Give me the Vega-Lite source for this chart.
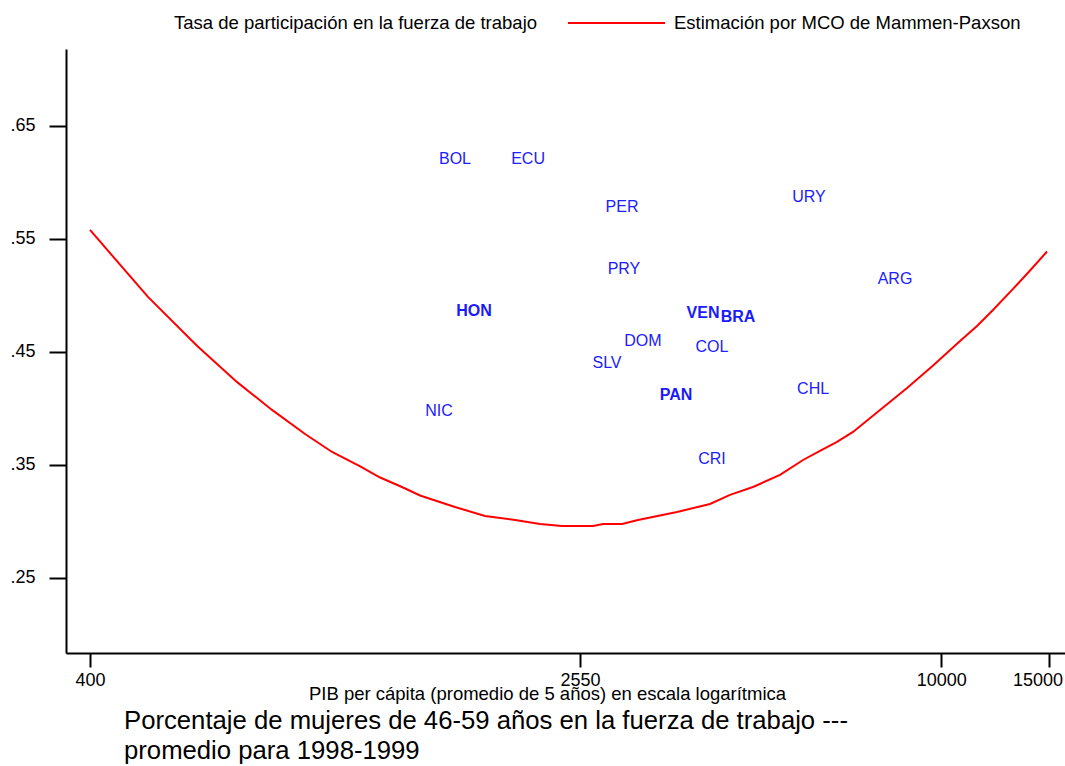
{
  "$schema": "https://vega.github.io/schema/vega-lite/v6.json",
  "width": 999,
  "height": 604,
  "autosize": {"type": "none"},
  "padding": {"left": 66, "top": 49, "right": 0, "bottom": 113},
  "background": "white",
  "config": {"view": {"stroke": null}, "font": "Liberation Sans"},
  "title": {
    "text": ["Porcentaje de mujeres de 46-59 años en la fuerza de trabajo ---", "promedio para 1998-1999"],
    "orient": "bottom",
    "anchor": "start",
    "frame": "group",
    "dx": 58,
    "offset": 6,
    "font": "Liberation Sans",
    "fontSize": 25.7,
    "fontWeight": "normal",
    "lineHeight": 30,
    "color": "black"
  },
  "datasets": {
    "paises": [
      {"pais": "BOL", "pib": 1590, "tasa": 0.6217},
      {"pais": "ECU", "pib": 2096, "tasa": 0.6217},
      {"pais": "PER", "pib": 2990, "tasa": 0.5792},
      {"pais": "URY", "pib": 6064, "tasa": 0.5881},
      {"pais": "PRY", "pib": 3012, "tasa": 0.5243},
      {"pais": "ARG", "pib": 8392, "tasa": 0.5155},
      {"pais": "HON", "pib": 1708, "tasa": 0.4872},
      {"pais": "VEN", "pib": 4061, "tasa": 0.4854},
      {"pais": "BRA", "pib": 4637, "tasa": 0.4819},
      {"pais": "DOM", "pib": 3236, "tasa": 0.4606},
      {"pais": "COL", "pib": 4201, "tasa": 0.4553},
      {"pais": "SLV", "pib": 2825, "tasa": 0.4412},
      {"pais": "CHL", "pib": 6157, "tasa": 0.4181},
      {"pais": "PAN", "pib": 3667, "tasa": 0.4128},
      {"pais": "NIC", "pib": 1497, "tasa": 0.3987},
      {"pais": "CRI", "pib": 4201, "tasa": 0.3562}
    ],
    "curva": [
      {"pib": 400, "tasa": 0.558},
      {"pib": 498, "tasa": 0.4987},
      {"pib": 600, "tasa": 0.4553},
      {"pib": 697, "tasa": 0.4235},
      {"pib": 796, "tasa": 0.3987},
      {"pib": 902, "tasa": 0.3774},
      {"pib": 999, "tasa": 0.3615},
      {"pib": 1111, "tasa": 0.3487},
      {"pib": 1198, "tasa": 0.3389},
      {"pib": 1301, "tasa": 0.3305},
      {"pib": 1393, "tasa": 0.323},
      {"pib": 1590, "tasa": 0.3128},
      {"pib": 1781, "tasa": 0.3049},
      {"pib": 1996, "tasa": 0.3013},
      {"pib": 2193, "tasa": 0.2978},
      {"pib": 2383, "tasa": 0.296},
      {"pib": 2680, "tasa": 0.296},
      {"pib": 2783, "tasa": 0.2978},
      {"pib": 2990, "tasa": 0.2978},
      {"pib": 3176, "tasa": 0.3013},
      {"pib": 3681, "tasa": 0.3084},
      {"pib": 4170, "tasa": 0.3155},
      {"pib": 4497, "tasa": 0.3235},
      {"pib": 4906, "tasa": 0.3305},
      {"pib": 5433, "tasa": 0.3412},
      {"pib": 5928, "tasa": 0.3544},
      {"pib": 6320, "tasa": 0.3624},
      {"pib": 6740, "tasa": 0.3704},
      {"pib": 7160, "tasa": 0.3792},
      {"pib": 7930, "tasa": 0.3987},
      {"pib": 8784, "tasa": 0.4181},
      {"pib": 9693, "tasa": 0.4381},
      {"pib": 10732, "tasa": 0.4597},
      {"pib": 11444, "tasa": 0.473},
      {"pib": 12156, "tasa": 0.4872},
      {"pib": 13112, "tasa": 0.5058},
      {"pib": 13984, "tasa": 0.5221},
      {"pib": 14912, "tasa": 0.5389}
    ]
  },
  "encoding": {
    "x": {
      "field": "pib",
      "type": "quantitative",
      "scale": {"type": "log", "domain": [365.3, 15960], "nice": false, "zero": false},
      "axis": {
        "title": "PIB per cápita (promedio de 5 años) en escala logarítmica",
        "titleFont": "Liberation Sans",
        "titleFontSize": 18.5,
        "titleFontWeight": "normal",
        "titleColor": "black",
        "titleX": 481,
        "titleY": 46,
        "titleAlign": "center",
        "titleBaseline": "alphabetic",
        "values": [400, 2550, 10000, 15000],
        "format": "d",
        "labelFont": "Liberation Sans",
        "labelFontSize": 18,
        "labelColor": "black",
        "labelPadding": 4,
        "labelOffset": {"condition": {"test": "datum.value == 15000", "value": -11}, "value": 0},
        "labelFlush": false,
        "labelOverlap": false,
        "tickSize": 14,
        "tickWidth": 2,
        "tickColor": "black",
        "domainColor": "black",
        "domainWidth": 2,
        "grid": false
      }
    },
    "y": {
      "field": "tasa",
      "type": "quantitative",
      "scale": {"domain": [0.1836, 0.7181], "nice": false, "zero": false},
      "axis": {
        "title": null,
        "values": [0.25, 0.35, 0.45, 0.55, 0.65],
        "labelExpr": "replace(format(datum.value, '.2f'), '0.', '.')",
        "labelFont": "Liberation Sans",
        "labelFontSize": 18,
        "labelColor": "black",
        "labelPadding": 14,
        "labelOverlap": false,
        "labelFlush": false,
        "tickSize": 17,
        "tickWidth": 2,
        "tickColor": "black",
        "domainColor": "black",
        "domainWidth": 2,
        "grid": false
      }
    }
  },
  "layer": [
    {
      "data": {"name": "curva"},
      "mark": {"type": "line", "strokeWidth": 2},
      "encoding": {
        "stroke": {
          "datum": "Estimación por MCO de Mammen-Paxson",
          "type": "nominal",
          "scale": {
            "domain": ["Tasa de participación en la fuerza de trabajo", "Estimación por MCO de Mammen-Paxson"],
            "range": ["rgba(255,255,255,0)", "#ff0000"]
          },
          "legend": {
            "orient": "none",
            "legendX": 1,
            "legendY": -75.5,
            "direction": "horizontal",
            "columns": 2,
            "title": null,
            "symbolType": "stroke",
            "symbolSize": 9409,
            "symbolStrokeWidth": 2,
            "labelFont": "Liberation Sans",
            "labelFontSize": 18.5,
            "labelColor": "black",
            "labelLimit": 600,
            "labelOffset": 8,
            "columnPadding": 26,
            "padding": 0
          }
        }
      }
    },
    {
      "data": {"name": "paises"},
      "transform": [{"filter": "indexof(['HON','VEN','BRA','PAN'], datum.pais) < 0"}],
      "mark": {"type": "text", "font": "Liberation Sans", "fontSize": 16, "color": "#2020ff", "align": "center", "baseline": "middle", "dy": 1},
      "encoding": {"text": {"field": "pais", "type": "nominal"}}
    },
    {
      "data": {"name": "paises"},
      "transform": [{"filter": "indexof(['HON','VEN','BRA','PAN'], datum.pais) >= 0"}],
      "mark": {"type": "text", "font": "Liberation Sans", "fontSize": 16, "fontWeight": "bold", "color": "#1a1aff", "align": "center", "baseline": "middle", "dy": 1},
      "encoding": {"text": {"field": "pais", "type": "nominal"}}
    }
  ]
}
